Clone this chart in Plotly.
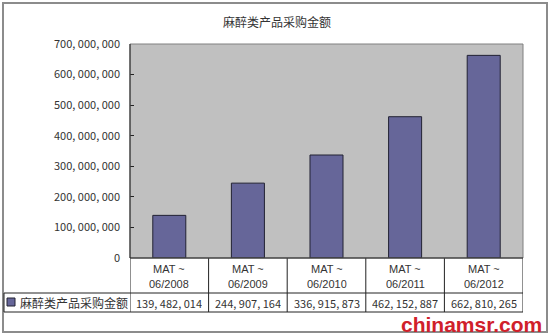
import plotly.graph_objects as go

title = "麻醉类产品采购金额"
series_name = "麻醉类产品采购金额"
categories = ["MAT ~<br>06/2008", "MAT ~<br>06/2009", "MAT ~<br>06/2010", "MAT ~<br>06/2011", "MAT ~<br>06/2012"]
values = [139482014, 244907164, 336915873, 462152887, 662810265]
y_ticks = [0, 100000000, 200000000, 300000000, 400000000, 500000000, 600000000, 700000000]

def fmt(v):
    return f"{v:,}".replace(",", ", ")

W, H = 551, 336
L, R, T, B = 130, 28, 44, 78
ph = H - T - B

def py(p):
    # pixel y -> paper y
    return (H - B - p) / ph

def px(p):
    return (p - L) / (W - L - R)

FONT = "Noto Sans CJK SC, Liberation Sans, sans-serif"
BAR = "#666699"
TXT = "#333333"

n = len(categories)
xs = list(range(n))
fig = go.Figure()
fig.add_trace(go.Bar(x=xs, y=values, marker=dict(color=BAR, line=dict(color="#222233", width=1)),
                     width=0.42, showlegend=False, hoverinfo="y"))

shapes = []
line = dict(color="#222222", width=1)
# table horizontal lines
for yp in [293, 312]:
    shapes.append(dict(type="line", xref="paper", yref="paper", x0=px(4), x1=1, y0=py(yp), y1=py(yp), line=line))
# vertical lines of table
for i in range(n + 1):
    shapes.append(dict(type="line", xref="x", yref="paper", x0=i - 0.5, x1=i - 0.5, y0=0, y1=py(312), line=line))
shapes.append(dict(type="line", xref="paper", yref="paper", x0=px(4), x1=px(4), y0=py(293), y1=py(312), line=line))
# plot border
shapes.append(dict(type="rect", xref="paper", yref="paper", x0=0, x1=1, y0=0, y1=1, line=dict(color="#808080", width=1)))
shapes.append(dict(type="line", xref="paper", yref="paper", x0=0, x1=0, y0=0, y1=1, line=dict(color="#222222", width=1)))
shapes.append(dict(type="line", xref="paper", yref="paper", x0=0, x1=1, y0=0, y1=0, line=dict(color="#222222", width=1)))
# legend marker
shapes.append(dict(type="rect", xref="paper", yref="paper", x0=px(7), x1=px(15), y0=py(298), y1=py(306),
                   fillcolor=BAR, line=dict(color="#222233", width=1)))
# outer frame
shapes.append(dict(type="rect", xref="paper", yref="paper", x0=px(3), x1=px(547), y0=py(332), y1=py(3),
                   line=dict(color="#8c8c8c", width=2), layer="below"))

ann = []
CAT_FONT = dict(family="Liberation Sans, sans-serif", size=11, color=TXT)
for i, (c, v) in enumerate(zip(categories, values)):
    top, bottom = c.split("<br>")
    ann.append(dict(x=i, y=py(268), xref="x", yref="paper", text=top, showarrow=False,
                    font=CAT_FONT, yanchor="middle", xanchor="center", height=13))
    ann.append(dict(x=i, y=py(283.5), xref="x", yref="paper", text=bottom, showarrow=False,
                    font=CAT_FONT, yanchor="middle", xanchor="center", height=13))
    ann.append(dict(x=i, y=py(302.5), xref="x", yref="paper", text=fmt(v), showarrow=False,
                    font=dict(family=FONT, size=11, color=TXT), yanchor="middle", xanchor="center", height=15))
ann.append(dict(x=px(18), y=py(302.5), xref="paper", yref="paper", text=series_name, showarrow=False,
                font=dict(family=FONT, size=12, color=TXT), yanchor="middle", xanchor="left", height=15))
ann.append(dict(x=px(277), y=py(21), xref="paper", yref="paper", text=title, showarrow=False,
                font=dict(family=FONT, size=12, color=TXT), yanchor="middle", xanchor="center"))
ann.append(dict(x=px(544), y=py(323.5), xref="paper", yref="paper", text="<b>chinamsr.com</b>", showarrow=False,
                font=dict(family="Liberation Sans, sans-serif", size=21, color="#d0202a"), yanchor="middle",
                xanchor="right", height=20))

fig.update_layout(
    width=W, height=H,
    margin=dict(l=L, r=R, t=T, b=B, pad=0),
    paper_bgcolor="white", plot_bgcolor="#c0c0c0",
    shapes=shapes, annotations=ann,
    xaxis=dict(range=[-0.5, n - 0.5], showticklabels=False, ticks="", showgrid=False, zeroline=False, fixedrange=True),
    yaxis=dict(range=[0, 700000000], tickvals=y_ticks, ticktext=[fmt(v) for v in y_ticks],
               ticks="inside", ticklen=4, tickcolor="#222222", showgrid=False, zeroline=False,
               tickfont=dict(family=FONT, size=11, color=TXT), ticklabelstandoff=9),
    font=dict(family=FONT),
)

fig.write_html("out.html")
